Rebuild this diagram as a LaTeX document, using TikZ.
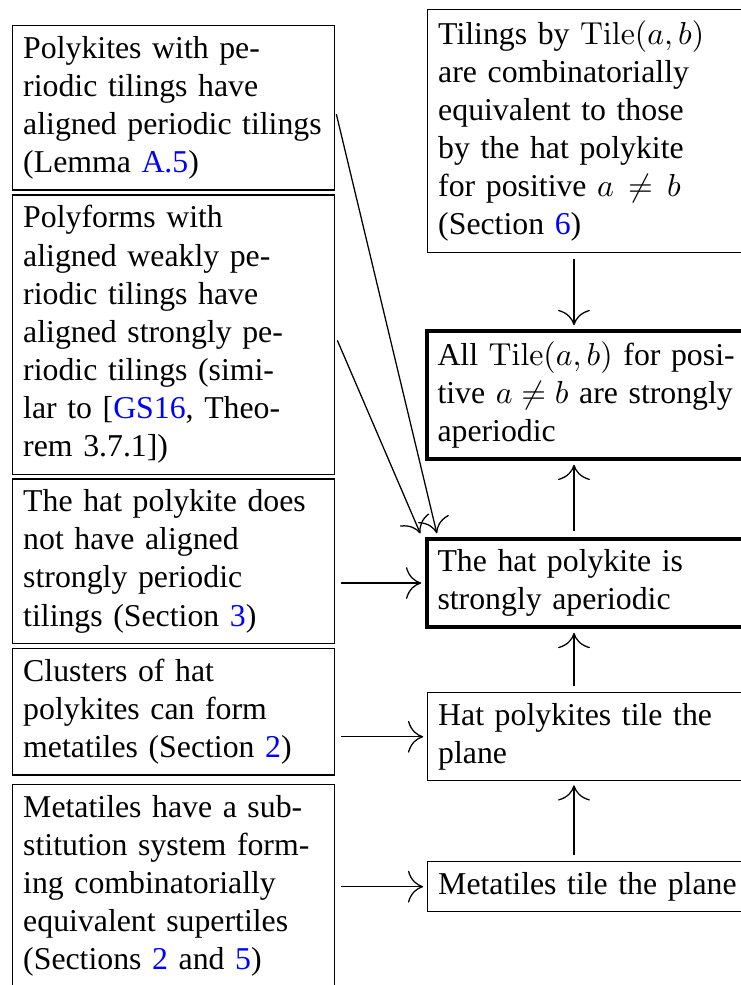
\documentclass[tikz,border=0pt]{standalone}
\usepackage[no-math]{fontspec}
\setmainfont{Liberation Serif}
\usepackage{xcolor}
\usetikzlibrary{arrows.meta, positioning}

\newcommand{\reflink}[1]{\textcolor{blue}{#1}}

\begin{document}
\begin{tikzpicture}[x=0.3145pt, y=-0.3145pt,
    claim/.style={draw, text width=3.32cm, align=left, anchor=north west},
    result/.style={claim, very thick},
    imp/.style={-{To[length=4.8pt,width=10pt]}, shorten <=2pt, shorten >=1.2pt}]
    \useasboundingbox (0,0) rectangle (740,985);
    % Left column: ingredients
    \node[claim] (peri) at (12,25) {Polykites with pe-\\riodic tilings have\\aligned periodic tilings\\(Lemma \reflink{A.5})};
    \node[claim, below=1.1pt of peri] (weak) {Polyforms with\\aligned weakly pe-\\riodic tilings have\\aligned strongly pe-\\riodic tilings (simi-\\lar to [\reflink{GS16}, Theo-\\rem 3.7.1])};
    \node[claim, below=1.1pt of weak] (nostrong) {The hat polykite does\\not have aligned\\strongly periodic\\tilings (Section \reflink{3})};
    \node[claim, below=1.1pt of nostrong] (clusters) {Clusters of hat\\polykites can form\\metatiles (Section \reflink{2})};
    \node[claim, below=2.6pt of clusters] (subst) {Metatiles have a sub-\\stitution system form-\\ing combinatorially\\equivalent supertiles\\(Sections \reflink{2} and \reflink{5})};
    % Right column: consequences
    \node[claim] (equiv) at (427,9) {Tilings by $\mathrm{Tile}(a,b)$\\are combinatorially\\equivalent to those\\by the hat polykite\\for positive $a\,\neq\,b$\\(Section \reflink{6})};
    \node[result] (alltiles) at (425,329) {All $\mathrm{Tile}(a,b)$ for posi-\\tive $a\neq b$ are strongly\\aperiodic};
    \node[result] (hatap) at (425,537) {The hat polykite is\\strongly aperiodic};
    \node[claim] (hattile) at (427,692) {Hat polykites tile the\\plane};
    \node[claim] (metatile) at (427,861) {Metatiles tile the plane};
    \coordinate (col) at (574,0);
    % Implications
    \draw[imp] (equiv.south -| col) -- (alltiles.north -| col);
    \draw[imp] (hatap.north -| col) -- (alltiles.south -| col);
    \draw[imp] (hattile.north -| col) -- (hatap.south -| col);
    \draw[imp] (metatile.north -| col) -- (hattile.south -| col);
    \draw[imp] (peri.east) -- ([xshift=4pt]hatap.north west);
    \draw[imp] (weak.east) -- ([xshift=-1pt]hatap.north west);
    \draw[imp] (nostrong.east |- hatap.west) -- (hatap.west);
    \draw[imp] (clusters.east |- hattile.west) -- (hattile.west);
    \draw[imp] (subst.east |- metatile.west) -- (metatile.west);
\end{tikzpicture}
\end{document}
